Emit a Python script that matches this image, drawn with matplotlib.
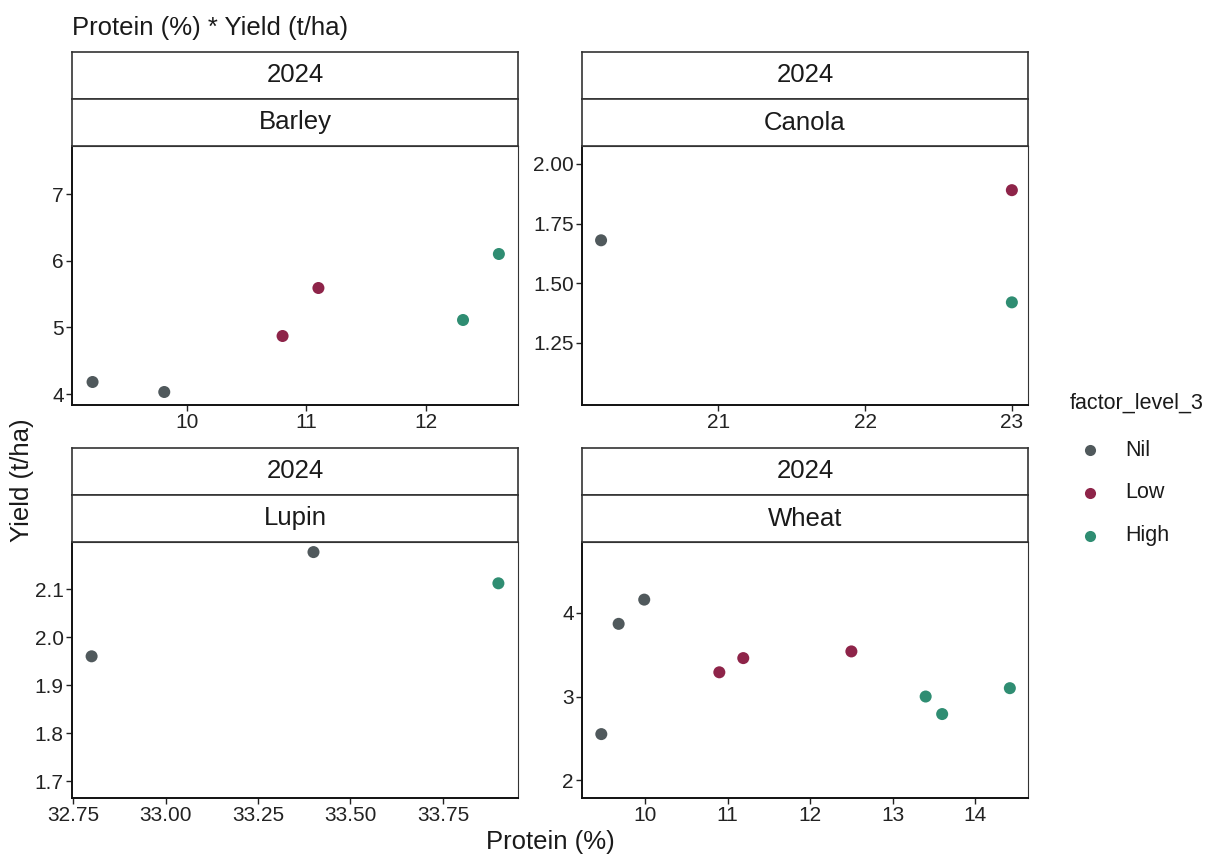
import matplotlib
matplotlib.use("Agg")
import matplotlib.pyplot as plt
from matplotlib.lines import Line2D

plt.rcParams['font.family'] = ['Liberation Sans', 'DejaVu Sans']

# ---- data ----
levels = ["Nil", "Low", "High"]
colors = {"Nil": "#50595c", "Low": "#8e2449", "High": "#2f8d72"}

barley_protein = [9.21, 9.81, 10.80, 11.10, 12.31, 12.61]
barley_yield = [4.18, 4.03, 4.87, 5.59, 5.11, 6.10]
barley_level = ["Nil", "Nil", "Low", "Low", "High", "High"]

canola_protein = [20.2, 23.0, 23.0]
canola_yield = [1.68, 1.89, 1.42]
canola_level = ["Nil", "Low", "High"]

lupin_protein = [32.80, 33.40, 33.90]
lupin_yield = [1.96, 2.177, 2.112]
lupin_level = ["Nil", "Nil", "High"]

wheat_protein = [9.47, 9.68, 9.99, 10.90, 11.19, 12.50, 13.40, 13.60, 14.42]
wheat_yield = [2.55, 3.87, 4.16, 3.29, 3.46, 3.54, 3.00, 2.79, 3.10]
wheat_level = ["Nil", "Nil", "Nil", "Low", "Low", "Low", "High", "High", "High"]

year_label = "2024"
crops = ["Barley", "Canola", "Lupin", "Wheat"]

barley_xticks = [10, 11, 12]
barley_yticks = [4, 5, 6, 7]
canola_xticks = [21, 22, 23]
canola_yticks = [1.25, 1.50, 1.75, 2.00]
lupin_xticks = [32.75, 33.00, 33.25, 33.50, 33.75]
lupin_yticks = [1.7, 1.8, 1.9, 2.0, 2.1]
wheat_xticks = [10, 11, 12, 13, 14]
wheat_yticks = [2, 3, 4]

panels = [
    dict(name="Barley", x=barley_protein, y=barley_yield, lev=barley_level,
         xt=barley_xticks, yt=barley_yticks, xfmt="{:g}", yfmt="{:g}",
         xlim=(9.038, 12.77), ylim=(3.835, 7.72), px=(72, 518), py=(52, 405)),
    dict(name="Canola", x=canola_protein, y=canola_yield, lev=canola_level,
         xt=canola_xticks, yt=canola_yticks, xfmt="{:g}", yfmt="{:.2f}",
         xlim=(20.07, 23.11), ylim=(0.99, 2.075), px=(582, 1028), py=(52, 405)),
    dict(name="Lupin", x=lupin_protein, y=lupin_yield, lev=lupin_level,
         xt=lupin_xticks, yt=lupin_yticks, xfmt="{:.2f}", yfmt="{:.1f}",
         xlim=(32.747, 33.953), ylim=(1.665, 2.198), px=(72, 518), py=(448, 798)),
    dict(name="Wheat", x=wheat_protein, y=wheat_yield, lev=wheat_level,
         xt=wheat_xticks, yt=wheat_yticks, xfmt="{:g}", yfmt="{:g}",
         xlim=(9.236, 14.64), ylim=(1.785, 4.85), px=(582, 1028), py=(448, 798)),
]

W, H = 1208, 856
fig = plt.figure(figsize=(W / 100, H / 100), dpi=100)
fig.patch.set_facecolor("white")

def rect(x0, x1, y0, y1):
    return [x0 / W, 1 - y1 / H, (x1 - x0) / W, (y1 - y0) / H]

strip_h = 47
for p in panels:
    x0, x1 = p["px"]
    top, bottom = p["py"]
    plot_top = top + 2 * strip_h
    ax = fig.add_axes(rect(x0, x1, plot_top, bottom))
    for lv in levels:
        xs = [a for a, l in zip(p["x"], p["lev"]) if l == lv]
        ys = [b for b, l in zip(p["y"], p["lev"]) if l == lv]
        ax.scatter(xs, ys, s=75, color=colors[lv], edgecolors="none", zorder=3)
    ax.set_xlim(*p["xlim"])
    ax.set_ylim(*p["ylim"])
    ax.set_xticks(p["xt"])
    ax.set_xticklabels([p["xfmt"].format(v) for v in p["xt"]])
    ax.set_yticks(p["yt"])
    ax.set_yticklabels([p["yfmt"].format(v) for v in p["yt"]])
    ax.tick_params(labelsize=15, length=4, width=1, colors="#222222", pad=2)
    for s in ax.spines.values():
        s.set_color("#333333")
        s.set_linewidth(0.8)
    ax.spines["left"].set_linewidth(1.4)
    ax.spines["bottom"].set_linewidth(1.4)
    ax.spines["left"].set_color("#111111")
    ax.spines["bottom"].set_color("#111111")
    # strips
    for i, label in enumerate([year_label, p["name"]]):
        sax = fig.add_axes(rect(x0, x1, top + i * strip_h, top + (i + 1) * strip_h))
        sax.set_xticks([]); sax.set_yticks([])
        sax.set_facecolor("white")
        for s in sax.spines.values():
            s.set_color("#333333")
            s.set_linewidth(1.2)
        sax.text(0.5, 0.5, label, ha="center", va="center", fontsize=18.5,
                 color="#1a1a1a", transform=sax.transAxes)

fig.text(72 / W, 1 - 28 / H, "Protein (%) * Yield (t/ha)", ha="left", va="center",
         fontsize=18.5, color="#1a1a1a")
fig.text(550 / W, 1 - 842 / H, "Protein (%)", ha="center", va="center",
         fontsize=18.5, color="#1a1a1a")
fig.text(22 / W, 1 - 480 / H, "Yield (t/ha)", ha="center", va="center",
         rotation=90, fontsize=18.5, color="#1a1a1a")

# legend
fig.text(1070 / W, 1 - 403 / H, "factor_level_3", ha="left", va="center",
         fontsize=15.5, color="#1a1a1a")
for i, lv in enumerate(levels):
    yy = 1 - (450 + i * 43) / H
    fig.add_artist(Line2D([1090 / W], [yy], marker="o", markersize=8,
                          color=colors[lv], markeredgewidth=0, linestyle="none",
                          transform=fig.transFigure))
    fig.text(1125 / W, yy, lv, ha="left", va="center", fontsize=15.5, color="#1a1a1a")

fig.savefig("out.png", dpi=100, facecolor="white")
